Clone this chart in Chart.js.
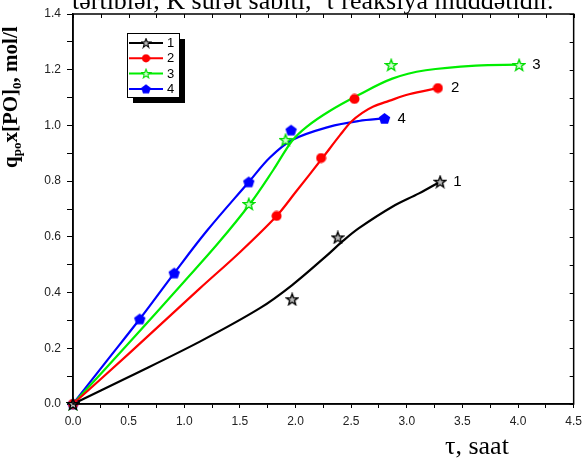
<!DOCTYPE html>
<html><head><meta charset="utf-8">
<script src="https://cdn.jsdelivr.net/npm/chart.js@4"></script>
<style>
body{margin:0;background:#fff;overflow:hidden}
#wrap{position:relative;width:588px;height:460px;overflow:hidden}
#title{position:absolute;left:72px;top:-12px;font:26px "Liberation Serif",serif;white-space:pre;color:#000;line-height:26px}
#xlab{position:absolute;left:445px;top:433px;font:26px "Liberation Serif",serif;white-space:nowrap;color:#000;line-height:26px}
#ylab{position:absolute;left:0px;top:168px;transform-origin:0 0;transform:rotate(-90deg);font:bold 21px "Liberation Serif",serif;white-space:nowrap;line-height:21px;color:#000}
#ylab sub{font-size:13px;vertical-align:-4px}
</style>
</head><body>
<div id="wrap">
<canvas id="c" width="588" height="460"></canvas>
<div id="title">tərtiblər, K sürət sabiti,  τ reaksiya müddətidir.</div>
<div id="xlab">τ, saat</div>
<div id="ylab">q<sub>po</sub>x[PO]<sub>0</sub>, mol/l</div>
</div>
<script>
// ---- data ----
const seriesNames = ['1','2','3','4'];
const seriesColors = ['#000000','#ff0000','#00ee00','#0000ff'];
// measured points (markers)
const s1MarkX = [0, 1.97, 2.38, 3.30];
const s1MarkY = [0, 0.376, 0.598, 0.798];
const s2MarkX = [0, 1.83, 2.23, 2.53, 3.28];
const s2MarkY = [0, 0.675, 0.883, 1.095, 1.134];
const s3MarkX = [0, 1.58, 1.91, 2.86, 4.01];
const s3MarkY = [0, 0.718, 0.948, 1.217, 1.217];
const s4MarkX = [0, 0.60, 0.91, 1.58, 1.96, 2.80];
const s4MarkY = [0, 0.305, 0.47, 0.797, 0.983, 1.025];
// fitted curves
const s1FitX = [0, 0.5, 1.14, 1.68, 1.97, 2.27, 2.42, 2.57, 2.87, 3.11, 3.30];
const s1FitY = [0, 0.097, 0.224, 0.344, 0.427, 0.529, 0.583, 0.631, 0.708, 0.756, 0.798];
const s2FitX = [0, 0.5, 1.14, 1.5, 1.83, 2.0, 2.24, 2.4, 2.5, 2.6, 2.7, 2.84, 3.02, 3.28];
const s2FitY = [0, 0.18, 0.415, 0.545, 0.675, 0.76, 0.882, 0.965, 1.013, 1.045, 1.068, 1.088, 1.112, 1.134];
const s3FitX = [0, 0.5, 1.0, 1.3, 1.59, 1.8, 1.97, 2.1, 2.3, 2.57, 2.87, 3.17, 3.62, 4.01];
const s3FitY = [0, 0.218, 0.44, 0.575, 0.718, 0.84, 0.945, 0.995, 1.05, 1.11, 1.168, 1.198, 1.215, 1.218];
const s4FitX = [0, 0.3, 0.60, 0.91, 1.2, 1.58, 1.77, 1.97, 2.3, 2.57, 2.80];
const s4FitY = [0, 0.153, 0.305, 0.47, 0.62, 0.797, 0.885, 0.948, 0.995, 1.016, 1.025];
// axes
const xMin = 0, xMax = 4.5, xStep = 0.25;
const yMin = 0, yMax = 1.4, yStep = 0.1;

const markX = [s1MarkX, s2MarkX, s3MarkX, s4MarkX];
const markY = [s1MarkY, s2MarkY, s3MarkY, s4MarkY];
const fitX = [s1FitX, s2FitX, s3FitX, s4FitX];
const fitY = [s1FitY, s2FitY, s3FitY, s4FitY];
const pts = (xs, ys) => xs.map((x, i) => ({x, y: ys[i]}));

// ---- marker images ----
function starImg(size, stroke, fill) {
  const c = document.createElement('canvas'); c.width = c.height = size;
  const g = c.getContext('2d'); const cx = size/2, cy = size/2 + 0.5;
  const R = size/2 - 1, r = R*0.42;
  g.beginPath();
  for (let i = 0; i < 10; i++) {
    const a = -Math.PI/2 + i*Math.PI/5; const rr = i%2 ? r : R;
    g.lineTo(cx + rr*Math.cos(a), cy + rr*Math.sin(a));
  }
  g.closePath(); g.fillStyle = fill; g.fill();
  g.lineWidth = 1.4; g.strokeStyle = stroke; g.stroke();
  return c;
}
function pentImg(size, color) {
  const c = document.createElement('canvas'); c.width = c.height = size;
  const g = c.getContext('2d'); const cx = size/2, cy = size/2 + 0.5; const R = size/2 - 0.5;
  g.beginPath();
  for (let i = 0; i < 5; i++) {
    const a = -Math.PI/2 + i*2*Math.PI/5;
    g.lineTo(cx + R*Math.cos(a), cy + R*Math.sin(a));
  }
  g.closePath(); g.fillStyle = color; g.fill();
  return c;
}
function circImg(size, color) {
  const c = document.createElement('canvas'); c.width = c.height = size;
  const g = c.getContext('2d'); g.beginPath(); g.arc(size/2, size/2, size/2 - 0.5, 0, Math.PI*2);
  g.fillStyle = color; g.fill(); return c;
}
const markerImgs = [
  starImg(14, '#000', '#bbb'),
  circImg(11, '#ff0000'),
  starImg(14, '#00dd00', '#d0ffd0'),
  pentImg(13, '#0000ff')
];

const datasets = [];
for (let i = 0; i < 4; i++) {
  datasets.push({
    label: 'fit ' + seriesNames[i], data: pts(fitX[i], fitY[i]), showLine: true,
    borderColor: seriesColors[i], borderWidth: 2.2, pointRadius: 0,
    tension: 0.35, clip: false, order: 2
  });
}
for (let i = 0; i < 4; i++) {
  datasets.push({
    label: seriesNames[i], data: pts(markX[i], markY[i]), showLine: false,
    pointStyle: markerImgs[i], pointRadius: 6, clip: false, order: 1
  });
}

const frame = {
  id: 'frame',
  afterDraw(chart) {
    const {ctx, chartArea: a, scales} = chart;
    ctx.save();
    ctx.strokeStyle = '#000'; ctx.lineWidth = 1.5;
    ctx.strokeRect(a.left, a.top, a.right - a.left, a.bottom - a.top);
    ctx.lineWidth = 1;
    scales.x.ticks.forEach(t => {
      const px = Math.round(scales.x.getPixelForValue(t.value)) + 0.5;
      ctx.beginPath(); ctx.moveTo(px, a.top); ctx.lineTo(px, a.top + 4); ctx.stroke();
    });
    scales.y.ticks.forEach(t => {
      const py = Math.round(scales.y.getPixelForValue(t.value)) + 0.5;
      ctx.beginPath(); ctx.moveTo(a.right, py); ctx.lineTo(a.right - 4, py); ctx.stroke();
    });
    // end labels
    ctx.font = '15px "Liberation Sans", Arial, sans-serif';
    ctx.fillStyle = '#000'; ctx.textBaseline = 'middle'; ctx.textAlign = 'left';
    for (let i = 0; i < 4; i++) {
      const n = fitX[i].length - 1;
      const px = scales.x.getPixelForValue(fitX[i][n]);
      const py = scales.y.getPixelForValue(fitY[i][n]);
      ctx.fillText(seriesNames[i], px + 13, py);
    }
    // legend box
    const lx = 127, ly = 33, lw = 52, lh = 64;
    ctx.fillStyle = '#000'; ctx.fillRect(lx + 6, ly + 6, lw, lh);
    ctx.fillStyle = '#fff'; ctx.fillRect(lx, ly, lw, lh);
    ctx.strokeStyle = '#000'; ctx.lineWidth = 1; ctx.strokeRect(lx + 0.5, ly + 0.5, lw, lh);
    for (let i = 0; i < 4; i++) {
      const yy = ly + 10 + i * 15.3;
      ctx.strokeStyle = seriesColors[i]; ctx.lineWidth = 2;
      ctx.beginPath(); ctx.moveTo(lx + 2, yy); ctx.lineTo(lx + 36, yy); ctx.stroke();
      const img = markerImgs[i];
      const s = i === 1 ? 9 : 11;
      ctx.drawImage(img, lx + 19 - s/2, yy - s/2, s, s);
      ctx.fillStyle = '#000'; ctx.font = '13px "Liberation Sans", Arial, sans-serif';
      ctx.fillText(seriesNames[i], lx + 40, yy + 0.5);
    }
    ctx.restore();
  }
};

const isMult = (v, m) => Math.abs(v/m - Math.round(v/m)) < 1e-6;

new Chart(document.getElementById('c'), {
  type: 'scatter',
  data: {datasets},
  options: {
    responsive: false, animation: false,
    layout: {padding: {top: 14, right: 13, left: 0, bottom: 0}},
    plugins: {legend: {display: false}, tooltip: {enabled: false}},
    scales: {
      x: {
        type: 'linear', min: xMin, max: xMax,
        afterFit(s) { s.height = 56; },
        border: {display: true, color: '#000', width: 1.5},
        grid: {drawOnChartArea: false, drawTicks: true, tickLength: 4, color: '#000', lineWidth: 1},
        ticks: {
          stepSize: xStep, autoSkip: false, maxRotation: 0, padding: 6, color: '#222',
          font: {family: '"Liberation Sans", Arial, sans-serif', size: 12},
          callback: v => isMult(v, 0.5) ? v.toFixed(1) : ''
        }
      },
      y: {
        type: 'linear', min: yMin, max: yMax,
        afterFit(s) { s.width = 73; },
        border: {display: true, color: '#000', width: 1.5},
        grid: {drawOnChartArea: false, drawTicks: true, tickLength: 6, color: '#000', lineWidth: 1},
        ticks: {
          stepSize: yStep, autoSkip: false, padding: 6, color: '#222',
          font: {family: '"Liberation Sans", Arial, sans-serif', size: 12},
          callback: v => isMult(v, 0.2) ? v.toFixed(1) : ''
        }
      }
    }
  },
  plugins: [frame]
});
</script>
</body></html>
